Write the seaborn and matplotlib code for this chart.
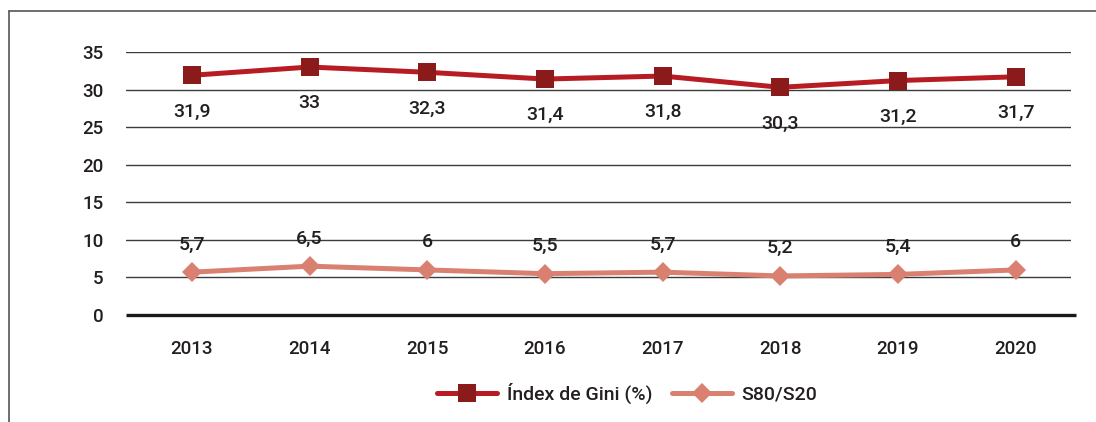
import matplotlib
matplotlib.use("Agg")
import matplotlib.pyplot as plt
import seaborn as sns
import pandas as pd
from matplotlib.lines import Line2D

years = ["2013", "2014", "2015", "2016", "2017", "2018", "2019", "2020"]
gini = [31.9, 33, 32.3, 31.4, 31.8, 30.3, 31.2, 31.7]
s80s20 = [5.7, 6.5, 6, 5.5, 5.7, 5.2, 5.4, 6]
series_names = ["Índex de Gini (%)", "S80/S20"]
yticks = [0, 5, 10, 15, 20, 25, 30, 35]

sns.set_theme(style="white")
plt.rcParams["font.family"] = ["Roboto", "DejaVu Sans"]

TXT = "#231f20"
GINI_LINE = "#b71c22"
GINI_MARK = "#8b1a1a"
S_COL = "#d98070"

fig = plt.figure(figsize=(10.96, 4.22), dpi=100)
ax = fig.add_axes([126 / 1096, 1 - 315 / 422, (1071 - 126) / 1096, (315 - 52) / 422])

df_g = pd.DataFrame({"year": years, "value": gini})
df_s = pd.DataFrame({"year": years, "value": s80s20})

sns.lineplot(data=df_g, x="year", y="value", ax=ax, color=GINI_LINE, lw=3.6,
             marker="s", markersize=12.7, markerfacecolor=GINI_MARK,
             markeredgecolor=GINI_MARK, markeredgewidth=0, zorder=5, sort=False)
sns.lineplot(data=df_s, x="year", y="value", ax=ax, color=S_COL, lw=3.6,
             marker="D", markersize=10, markerfacecolor=S_COL,
             markeredgecolor=S_COL, markeredgewidth=0, zorder=5, sort=False)

ax.set_ylim(0, 35)
ax.set_xlim(-0.56, len(years) - 0.53)
ax.set_yticks(yticks)
ax.set_yticklabels([str(t) for t in yticks])
ax.set_xlabel("")
ax.set_ylabel("")
for t in yticks[1:]:
    ax.axhline(t, color="#3c3c3c", lw=1.0, zorder=1)
ax.plot([0, 1.005], [0, 0], transform=ax.transAxes, color="#1a1a1a", lw=2.4,
        zorder=2, clip_on=False, solid_capstyle="butt")
for s in ["top", "right", "left", "bottom"]:
    ax.spines[s].set_visible(False)
ax.tick_params(axis="both", length=0, labelsize=13.5, colors=TXT)
for lab in ax.get_xticklabels() + ax.get_yticklabels():
    lab.set_fontweight("medium")
ax.tick_params(axis="y", pad=16)
ax.tick_params(axis="x", pad=18)

def fmt(v):
    return f"{v:g}".replace(".", ",")

for i, v in enumerate(gini):
    ax.annotate(fmt(v), (i, v), xytext=(0, -26), textcoords="offset points",
                ha="center", va="center", fontsize=14, fontweight="medium",
                color=TXT, zorder=6)
for i, v in enumerate(s80s20):
    ax.annotate(fmt(v), (i, v), xytext=(0, 20), textcoords="offset points",
                ha="center", va="center", fontsize=14, fontweight="medium",
                color=TXT, zorder=6)

handles = [
    Line2D([], [], color=GINI_LINE, lw=3.6, marker="s", markersize=12.7,
           markerfacecolor=GINI_MARK, markeredgewidth=0),
    Line2D([], [], color=S_COL, lw=3.6, marker="D", markersize=10,
           markerfacecolor=S_COL, markeredgewidth=0),
]
leg = fig.legend(handles, series_names, loc="center",
                 bbox_to_anchor=(627 / 1096, 1 - 393 / 422), ncol=2,
                 frameon=False, handlelength=3.1,
                 columnspacing=1.0, handletextpad=0.5,
                 prop={"size": 14, "weight": "medium"})
for t in leg.get_texts():
    t.set_color(TXT)

# partial frame (left and top)
fig.add_artist(Line2D([9 / 1096, 9 / 1096], [0, 1 - 10.5 / 422],
                      transform=fig.transFigure, color="#555555", lw=1.2))
fig.add_artist(Line2D([9 / 1096, 1], [1 - 10.5 / 422, 1 - 10.5 / 422],
                      transform=fig.transFigure, color="#555555", lw=1.2))

fig.savefig("out.png", dpi=100)
